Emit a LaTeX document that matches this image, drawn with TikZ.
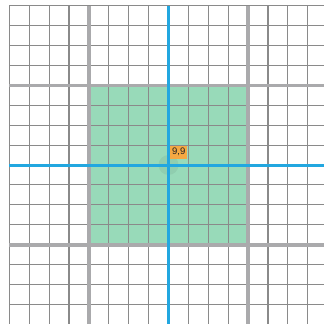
\documentclass[tikz,border=0pt]{standalone}
\usepackage{fontspec}
\setsansfont{Liberation Sans}
\definecolor{thin}{RGB}{138,138,138}
\definecolor{thick}{RGB}{170,170,172}
\definecolor{axis}{RGB}{34,167,224}
\definecolor{zone}{RGB}{152,218,185}
\definecolor{tag}{RGB}{246,168,66}
\tikzset{
  thinline/.style={draw=thin,line width=1.1pt},
  thickline/.style={draw=thick,line width=3.8pt},
  axisline/.style={draw=axis,line width=3pt},
  taglabel/.style={fill=tag,text={rgb,255:red,35;green,35;blue,35},font=\sffamily\fontsize{9.5}{10}\selectfont,inner sep=0pt,minimum width=16.5pt,minimum height=13pt}
}
\begin{document}
\begin{tikzpicture}[x=1pt,y=-1pt]
\useasboundingbox (0,0) rectangle (324,324);
\begin{scope}
\clip (0,0) rectangle (324,324);
\fill[white] (0,0) rectangle (324,324);
% green zone
\fill[zone] (88.9,85.4) rectangle (248.1,244.6);
% thin grid
\foreach \k in {0,...,16} {
  \pgfmathsetmacro{\xx}{9.3+19.9*\k}
  \pgfmathsetmacro{\yy}{5.8+19.9*\k}
  \draw[thinline] (\xx,5.8) -- (\xx,330);
  \draw[thinline] (9.3,\yy) -- (330,\yy);
}
% thick grid
\foreach \k in {4,12} {
  \pgfmathsetmacro{\xx}{9.3+19.9*\k}
  \pgfmathsetmacro{\yy}{5.8+19.9*\k}
  \draw[thickline] (\xx,5.8) -- (\xx,330);
  \draw[thickline] (9.3,\yy) -- (330,\yy);
}
% faint marker
\fill[black,opacity=0.05] (168.5,165) circle (10);
% axes
\coordinate (vtop) at (168.5,5.8);
\coordinate (vbot) at (168.5,330);
\coordinate (hleft) at (9.3,165);
\coordinate (hright) at (330,165);
\draw[axisline] (vtop) -- (vbot);
\draw[axisline] (hleft) -- (hright);
\end{scope}
\node[taglabel] (lbl) at (178.7,152) {9,9};
\end{tikzpicture}
\end{document}
